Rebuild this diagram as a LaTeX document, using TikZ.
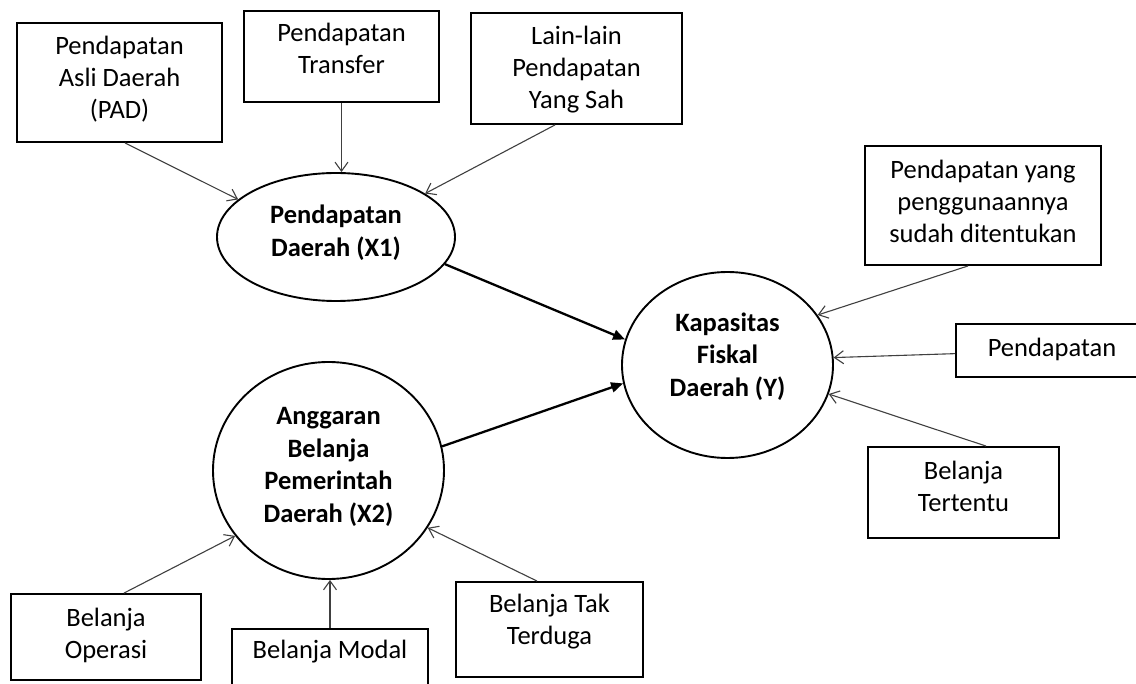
\documentclass[tikz,border=0pt]{standalone}
\usepackage{fontspec}
\setmainfont{Carlito}
\usetikzlibrary{shapes.geometric,arrows.meta}
\begin{document}
\begin{tikzpicture}[x=1pt,y=-1pt,
  box/.style={draw,line width=1.9pt,inner sep=0pt},
  lat/.style={draw,ellipse,line width=1.9pt,inner sep=0pt},
  txt/.style={align=center,inner sep=0pt,font=\fontsize{26.5}{32}\selectfont},
  btxt/.style={align=center,inner sep=0pt,font=\fontsize{26.5}{32.5}\selectfont\bfseries},
  thinarr/.style={line width=1.1pt,draw=black!75,-{Straight Barb[length=9pt,width=13pt]}},
  thickarr/.style={line width=2.3pt,-{Triangle[length=12pt,width=10pt]}}
]
\useasboundingbox (0,0) rectangle (1136,684);
\clip (0,0) rectangle (1136,684);
\fill[white] (0,0) rectangle (1136,684);

% boxes
\node[box,minimum width=205pt,minimum height=119pt] (pad) at (119.5,82.5) {};
\node[txt] (padt) at (119.5,79) {Pendapatan\\Asli Daerah\\(PAD)};
\node[box,minimum width=195pt,minimum height=91pt] (tr) at (341.5,56.5) {};
\node[txt] (trt) at (341.5,48) {Pendapatan\\Transfer};
\node[box,minimum width=211pt,minimum height=111pt] (lain) at (576.5,68.5) {};
\node[txt] (laint) at (576.5,70) {Lain-lain\\Pendapatan\\Yang Sah};
\node[box,minimum width=236pt,minimum height=119pt] (yang) at (983,205.5) {};
\node[txt] (yangt) at (983,201.5) {Pendapatan yang\\penggunaannya\\sudah ditentukan};
\node[box,minimum width=192pt,minimum height=53pt] (pd) at (1052,350.5) {};
\node[txt] (pdt) at (1052,349.5) {Pendapatan};
\node[box,minimum width=191pt,minimum height=91pt] (tt) at (963.5,492.5) {};
\node[txt] (ttt) at (963.5,486) {Belanja\\Tertentu};
\node[box,minimum width=190pt,minimum height=86pt] (op) at (106,637) {};
\node[txt] (opt) at (106,635) {Belanja\\Operasi};
\node[box,minimum width=196pt,minimum height=71pt] (bm) at (330,664.5) {};
\node[txt] (bmt) at (330,651.5) {Belanja Modal};
\node[box,minimum width=187pt,minimum height=95pt] (tak) at (549.5,629.5) {};
\node[txt] (takt) at (549.5,621.5) {Belanja Tak\\Terduga};

% latent variables
\node[lat,minimum width=238pt,minimum height=128pt] (x1) at (336,237) {};
\node[btxt] (x1t) at (336,232.5) {Pendapatan\\Daerah (X1)};
\node[lat,minimum width=231pt,minimum height=217pt] (x2) at (328.5,470.5) {};
\node[btxt] (x2t) at (328.5,467) {Anggaran\\Belanja\\Pemerintah\\Daerah (X2)};
\node[lat,minimum width=211pt,minimum height=186pt] (kf) at (727.5,365) {};
\node[btxt] (kft) at (727.5,356.5) {Kapasitas\\Fiskal\\Daerah (Y)};

% connectors
\draw[thinarr] ([xshift=5.5pt]pad.south) -- (x1.159);
\draw[thinarr] (tr) -- (tr |- x1.north);
\draw[thinarr] ([xshift=-21.5pt]lain.south) -- (x1.26);
\draw[thickarr] (x1.-14) -- (kf.166);
\draw[thickarr] (x2.12) -- (kf.190);
\draw[thinarr] ([xshift=18pt]op.north) -- (x2.215);
\draw[thinarr] (bm) -- (bm |- x2.south);
\draw[thinarr] ([xshift=-12.5pt]tak.north) -- (x2.-30);
\draw[thinarr] ([xshift=-15pt]yang.south) -- (kf.29);
\draw[thinarr] (pd) -- (kf.4);
\draw[thinarr] ([xshift=22.5pt]tt.north) -- (kf.-16);
\end{tikzpicture}
\end{document}
